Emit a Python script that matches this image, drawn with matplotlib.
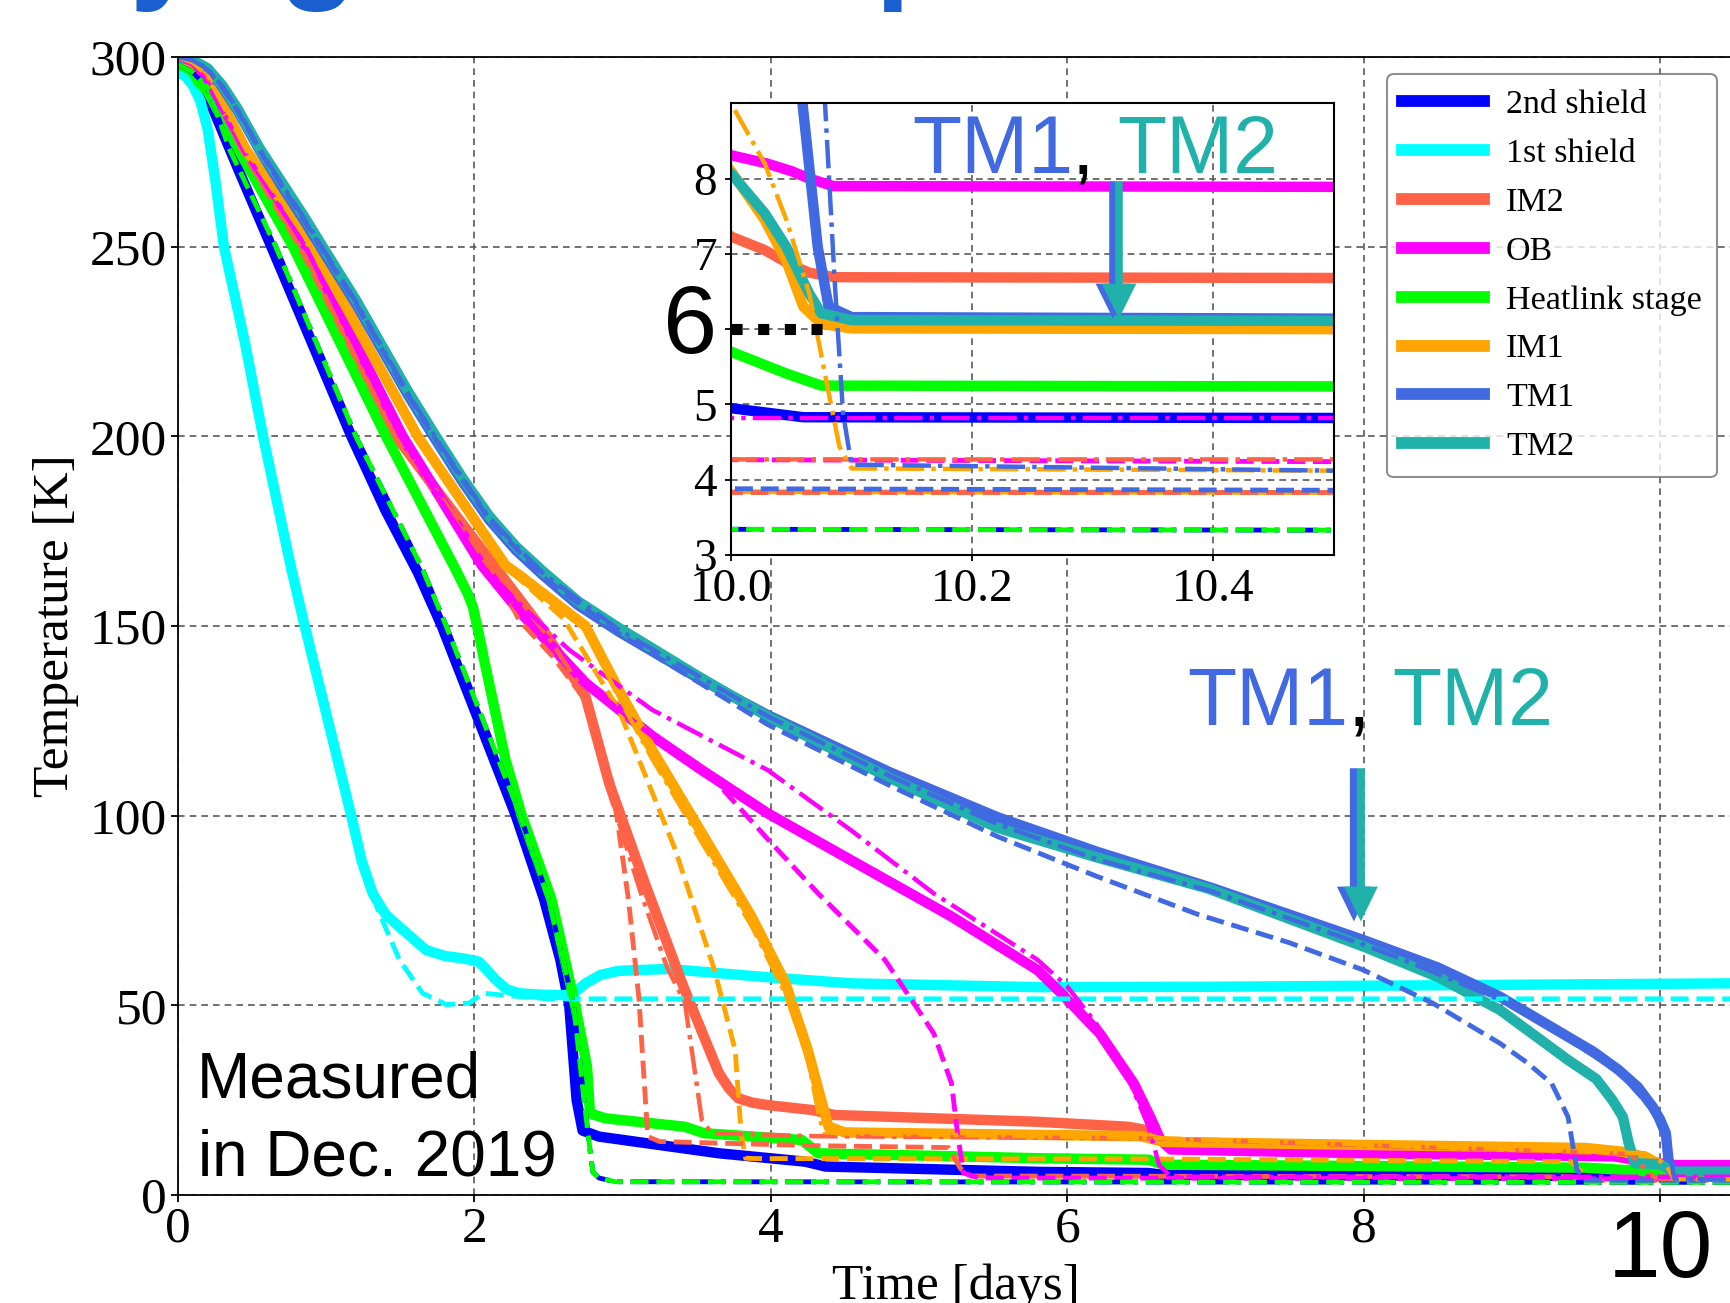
import matplotlib
matplotlib.use("Agg")
import matplotlib.pyplot as plt
from matplotlib.patches import FancyArrow

W_PX, H_PX, DPI = 1730, 1303, 100
SERIF = "Liberation Serif"
SANS = "Liberation Sans"

# ---- component colours (legend order) ----
names = ["2nd shield", "1st shield", "IM2", "OB", "Heatlink stage", "IM1", "TM1", "TM2"]
colors = ["#0000ff", "#00ffff", "#ff6347", "#ff00ff", "#00ff00", "#ffa500", "#4169e1", "#20b2aa"]

# ---- measured (solid) curves, time [days] / temperature [K] ----
t_2nd = [0, 0.05, 0.1, 0.17, 0.4, 0.63, 0.9, 1.17, 1.4, 1.62, 1.78, 2.0, 2.28, 2.47, 2.58, 2.64,
         2.69, 2.73, 2.84, 3.65, 4.23, 4.37, 5.8, 6.55, 6.65, 9.9, 10.0, 10.06, 10.5]
T_2nd = [300, 298.5, 296, 292.5, 271, 250, 225, 200, 180.5, 164, 150, 128, 100, 78, 62, 50,
         25, 17, 15.4, 11.0, 8.8, 7.5, 6.1, 5.8, 5.3, 5.0, 4.95, 4.83, 4.82]

t_1st = [0, 0.05, 0.1, 0.15, 0.2, 0.25, 0.31, 0.45, 0.574, 0.765, 0.855, 1.0, 1.169, 1.24, 1.314,
         1.40, 1.494, 1.673, 1.8, 1.92, 2.03, 2.08, 2.145, 2.22, 2.30, 2.45, 2.616, 2.68, 2.75,
         2.85, 2.974, 3.31, 3.98, 4.54, 5.8, 7.0, 10.5]
T_1st = [296, 295, 292.5, 288.5, 281, 268, 250, 225, 200, 165, 150, 127, 100, 88, 79.5,
         74, 70.7, 64.6, 63, 62.4, 61.5, 59.5, 56.7, 54.2, 53.2, 52.8, 52.7, 53.5, 55.8,
         58, 59.1, 59.6, 57.4, 55.8, 54.8, 54.9, 55.8]

t_im2 = [0, 0.1, 0.2, 0.43, 0.83, 1.47, 2.155, 2.5, 2.75, 2.91, 3.15, 3.41, 3.65, 3.72, 3.78,
         3.88, 3.98, 4.28, 4.43, 5.8, 6.41, 6.55, 6.63, 6.75, 8.0, 9.6, 9.9, 10.0, 10.028,
         10.05, 10.065, 10.086, 10.5]
T_im2 = [300, 298, 294, 275.5, 250, 200, 164.8, 147, 131.4, 108.5, 82.2, 55, 32.1, 28, 25.5,
         24.3, 23.7, 22.4, 21.1, 19.3, 18.0, 17.0, 14.5, 12.5, 12.0, 11.0, 8.5, 7.23, 7.05,
         6.85, 6.75, 6.69, 6.68]

t_ob = [0, 0.1, 0.19, 0.44, 0.866, 1.516, 2.05, 2.30, 2.75, 3.2, 3.535, 3.98, 4.54, 5.22, 5.8,
        5.96, 6.22, 6.45, 6.56, 6.63, 6.7, 8.0, 9.7, 9.95, 10.0, 10.03, 10.05, 10.065, 10.085, 10.5]
T_ob = [300, 298, 293, 275.5, 250, 200, 166, 154, 135, 121, 112, 100.6, 88.3, 73.4, 59.3,
        53.2, 42.6, 29.4, 20.6, 14.5, 12.0, 11.0, 10.2, 8.8, 8.31, 8.2, 8.1, 8.0, 7.9, 7.89]

t_heat = [0, 0.1, 0.2, 0.41, 0.776, 1.404, 1.875, 1.954, 1.99, 2.03, 2.066, 2.21, 2.32, 2.52,
          2.68, 2.73, 2.76, 2.78, 2.885, 3.42, 3.55, 4.21, 4.32, 5.8, 6.55, 6.65, 9.5, 9.8,
          10.0, 10.046, 10.075, 10.5]
T_heat = [297, 295, 291, 275.5, 250, 200, 164.8, 158.6, 155, 148, 141, 114.7, 100, 78,
          50, 40, 33.8, 21.5, 20.2, 18.0, 16.3, 14.5, 11.0, 9.7, 9.3, 8.0, 7.2, 6.5,
          5.7, 5.41, 5.25, 5.24]

t_im1 = [0, 0.1, 0.2, 0.46, 0.91, 1.617, 2.21, 2.30, 2.75, 2.975, 3.2, 3.535, 3.87, 4.10, 4.25,
         4.365, 4.39, 4.5, 6.5, 6.65, 8.0, 9.5, 9.75, 9.9, 10.0, 10.028, 10.046, 10.06, 10.075,
         10.1, 10.5]
T_im1 = [300, 298.5, 295, 275.5, 250, 200, 166, 163.5, 150, 133.1, 117.3, 95.4, 73.4, 55.8, 38.2,
         21.5, 18, 16.5, 15.5, 14.0, 13.2, 12.4, 11.4, 10.0, 8.1, 7.45, 6.9, 6.3, 6.07,
         6.01, 6.0]

t_tm1 = [0, 0.1, 0.2, 0.3, 0.4, 0.55, 0.7, 0.85, 1.0, 1.2, 1.36, 1.55, 1.74, 1.92, 2.10, 2.28,
         2.46, 2.7, 2.975, 3.5, 3.98, 4.8, 5.53, 6.2, 6.98, 8.0, 8.5, 8.92, 9.38, 9.55, 9.72,
         9.85, 9.95, 10.0, 10.04, 10.058, 10.072, 10.081, 10.1, 10.5]
T_tm1 = [300, 299, 296.5, 292, 286, 275.5, 266, 257, 247.5, 235, 224, 211, 199, 188, 178, 170,
         163.5, 155.5, 148.5, 136.5, 126.5, 111.5, 99.6, 90.5, 80.9, 67.2, 60, 52.3, 41.7, 37.8, 33,
         28.5, 23.3, 20, 16.3, 9.2, 7.09, 6.3, 6.16, 6.14]

t_tm2 = [0, 0.1, 0.2, 0.3, 0.4, 0.55, 0.7, 0.85, 1.0, 1.2, 1.36, 1.55, 1.74, 1.92, 2.10, 2.28,
         2.46, 2.7, 2.975, 3.5, 3.98, 4.8, 5.53, 6.2, 6.95, 8.0, 8.5, 8.92, 9.38, 9.57, 9.68,
         9.75, 9.79, 9.83, 9.95, 10.0, 10.028, 10.046, 10.065, 10.075, 10.1, 10.5]
T_tm2 = [300, 299.2, 297, 292.5, 286.5, 276, 267, 258, 248.5, 236, 225, 212, 200, 189, 179, 171,
         164.5, 156.5, 149.5, 137, 126.1, 110, 96.8, 89, 80.8, 65.5, 57.5, 48.8, 35.6, 30.6, 25.0,
         20.6, 13.6, 8.4, 8.2, 8.07, 7.54, 7.09, 6.47, 6.21, 6.12, 6.11]

# ---- simulation A (dashed) ----
t_1st_a = [0, 0.05, 0.1, 0.15, 0.2, 0.25, 0.31, 0.45, 0.574, 0.855, 1.169, 1.236, 1.35, 1.494,
           1.65, 1.81, 1.965, 2.06, 2.19, 2.5, 10.5]
T_1st_a = [296, 295, 292.5, 288.5, 281, 268, 250, 225, 200, 150, 100, 88.3, 75.1, 62,
           53.2, 50.2, 50.6, 53.2, 52.7, 51.7, 51.7]

t_im1_a = [0, 0.1, 0.2, 0.46, 0.9, 1.6, 2.2, 2.6, 2.975, 3.356, 3.62, 3.76, 3.80, 3.83, 3.9, 6.5,
           9.4, 9.5, 9.55, 10.5]
T_im1_a = [300, 298.5, 295, 275.5, 250, 200, 166, 152, 127.9, 91, 59.3, 38.2, 16.3, 9.7, 9.6, 9.5,
           8.8, 5, 3.85, 3.83]

t_im2_a = [0, 0.1, 0.2, 0.43, 0.82, 1.46, 1.9, 2.17, 2.30, 2.53, 2.73, 2.93, 3.04, 3.11, 3.17,
           3.25, 4.3, 5.2, 5.28, 5.35, 9.4, 9.45, 9.5, 10.5]
T_im2_a = [300, 298, 294, 275.5, 250, 200, 176, 162, 151.6, 141.9, 131.4, 108.6, 77.8, 52, 15.4,
           14.1, 13.0, 12.5, 7.0, 5.0, 4.8, 4.2, 3.83, 3.83]

t_ob_a = [0, 0.1, 0.2, 0.44, 0.86, 1.5, 2.05, 2.3, 2.75, 3.2, 3.56, 3.98, 4.32, 4.77, 5.1, 5.22,
          5.26, 5.30, 5.4, 10.5]
T_ob_a = [300, 298, 293, 275.5, 250, 200, 166, 154, 135, 121, 112, 93.8, 79.5, 62, 42.6, 29.4,
          16.3, 5.8, 4.5, 4.24]

t_heat_a = [0, 0.1, 0.2, 0.35, 0.66, 1.2, 1.65, 1.81, 2.31, 2.5, 2.67, 2.74, 2.78, 2.80, 2.84,
            2.95, 10.5]
T_heat_a = [298, 296, 292, 275.5, 250, 200, 165, 150, 100, 78, 50, 25, 12, 6, 4.5,
            3.5, 3.33]

t_tm1_a = [0, 0.1, 0.2, 0.3, 0.4, 0.55, 0.7, 0.85, 1.0, 1.2, 1.36, 1.55, 1.74, 2.10, 2.46, 2.975,
           3.98, 4.8, 5.53, 6.2, 6.88, 7.5, 8.0, 8.47, 8.92, 9.1, 9.27, 9.38, 9.41, 9.44, 9.5, 10.5]
T_tm1_a = [300, 299, 296.5, 292, 286, 275.5, 266, 257, 247.5, 235, 224, 211, 199, 178, 163, 148,
           124, 108, 94.5, 84, 74, 66.5, 59.3, 50.5, 40, 35, 29.4, 20.6, 13.6, 6.6, 3.9, 3.86]

# ---- simulation B (dash-dot) ----
t_im2_b = [0, 0.1, 0.2, 0.43, 0.83, 1.47, 2.1, 2.5, 2.75, 2.88, 3.12, 3.30, 3.42, 3.535, 3.6,
           4.3, 6.6, 9.8, 9.95, 10.0, 10.5]
T_im2_b = [300, 298, 294, 275.5, 250, 200, 167, 147, 132, 110, 80, 60, 50.8, 19.8, 16.3,
           15.5, 14.9, 10.8, 5.0, 4.27, 4.27]

t_ob_b = [0, 0.1, 0.2, 0.44, 0.86, 1.5, 2.05, 2.3, 2.64, 3.2, 3.98, 4.54, 5.1, 5.8, 6.0, 6.2,
          6.4, 6.55, 6.62, 6.7, 10.5]
T_ob_b = [300, 298, 293, 275.5, 250, 200, 166, 156, 143.7, 127.9, 112, 96.2, 79.5, 62, 55, 45,
          32, 18, 8, 4.82, 4.82]

t_im1_b = [0, 0.1, 0.2, 0.46, 0.9, 1.6, 2.2, 2.75, 2.975, 3.2, 3.535, 3.87, 4.10, 4.25, 4.33,
           4.36, 4.45, 6.6, 9.9, 10.0, 10.028, 10.046, 10.065, 10.079, 10.09, 10.1, 10.5]
T_im1_b = [300, 298.5, 295, 275.5, 250, 200, 166, 149, 131, 115, 93, 71, 53, 36, 20,
           16.6, 16.3, 15.0, 11.0, 9.0, 8.2, 7.45, 6.47, 5.32, 4.44, 4.15, 4.12]

t_tm1_b = [0, 0.1, 0.2, 0.3, 0.4, 0.55, 0.7, 0.85, 1.0, 1.2, 1.36, 1.55, 1.74, 2.10, 2.46, 2.975,
           3.98, 4.8, 5.53, 6.2, 6.98, 8.0, 8.24, 8.92, 9.38, 9.72, 9.95, 10.04, 10.07, 10.078,
           10.086, 10.093, 10.1, 10.5]
T_tm1_b = [300, 299.1, 296.8, 292.3, 286.3, 275.8, 266.5, 257.5, 248, 235.5, 224.5, 211.5, 199.5,
           178.5, 164, 149, 126.2, 110.5, 97.8, 88.5, 80, 66, 62.5, 51.5, 41, 32.5, 22.5, 14, 10.5,
           9.0, 6.65, 4.88, 4.2, 4.12]

# 2nd shield sim B runs underneath the heat-link sim A curve
t_2nd_b = t_heat_a
T_2nd_b = T_heat_a

solid = [(t_2nd, T_2nd), (t_1st, T_1st), (t_im2, T_im2), (t_ob, T_ob),
         (t_heat, T_heat), (t_im1, T_im1), (t_tm1, T_tm1), (t_tm2, T_tm2)]
dashed = [(t_1st_a, T_1st_a, colors[1], "--"), (t_im1_a, T_im1_a, colors[5], "--"),
          (t_im2_a, T_im2_a, colors[2], "--"), (t_ob_a, T_ob_a, colors[3], "--"),
          (t_2nd_b, T_2nd_b, colors[0], "-."), (t_heat_a, T_heat_a, colors[4], "--"),
          (t_tm1_a, T_tm1_a, colors[6], "--")]
dashdot = [(t_im2_b, T_im2_b, colors[2]), (t_ob_b, T_ob_b, colors[3]),
           (t_im1_b, T_im1_b, colors[5]), (t_tm1_b, T_tm1_b, colors[6])]


def fxy(x_px, y_px):
    return x_px / W_PX, 1 - y_px / H_PX


def draw_curves(a):
    handles = []
    for (t, T), c, name in zip(solid, colors, names):
        h, = a.plot(t, T, color=c, lw=7.5, label=name)
        handles.append(h)
    for t, T, c, ls in dashed:
        a.plot(t, T, color=c, lw=3.5, linestyle=ls)
    for t, T, c in dashdot:
        a.plot(t, T, color=c, lw=3.2, linestyle="-.")
    return handles


def split_arrow(a, x_blue, x_teal, y_top, y_tip, shaft, head_w, head_len):
    for x, c in ((x_blue, colors[6]), (x_teal, colors[7])):
        a.add_patch(FancyArrow(x, y_top, 0, y_tip - y_top, width=shaft, head_width=head_w,
                               head_length=head_len, length_includes_head=True,
                               color=c, lw=0, zorder=6))


plt.rcParams["font.family"] = SERIF
fig = plt.figure(figsize=(W_PX / DPI, H_PX / DPI), dpi=DPI)

# main axes (right edge runs past the cropped figure)
ax = fig.add_axes([178 / W_PX, 108 / H_PX, 1556 / W_PX, 1138 / H_PX])
handles = draw_curves(ax)
ax.set_xlim(0, 10.5)
ax.set_ylim(0, 300)
ax.set_xticks([0, 2, 4, 6, 8, 10])
ax.set_xticklabels(["0", "2", "4", "6", "8", ""])
ax.set_yticks([0, 50, 100, 150, 200, 250, 300])
ax.tick_params(labelsize=37, length=5, width=1.3, pad=3)
ax.set_xlabel("Time [days]", fontsize=37, labelpad=8)
ax.set_ylabel("Temperature [K]", fontsize=37, labelpad=8)
ax.grid(True, color="0.35", linestyle=(0, (4, 3)), linewidth=1.2)
ax.set_axisbelow(True)
for s in ax.spines.values():
    s.set_linewidth(1.3)

leg = ax.legend(handles=handles, loc="upper right", fontsize=24.5, labelspacing=0.53,
                handlelength=2.4, handletextpad=0.65, borderpad=0.45, framealpha=0.8,
                edgecolor="0.45")
leg.get_frame().set_linewidth(1.5)
for h in leg.get_lines():
    h.set_linewidth(8.5)

split_arrow(ax, 7.935, 7.982, 112.5, 72.1, 0.054, 0.229, 9.2)

# inset: zoom on the end of cooling
ins = fig.add_axes([731 / W_PX, 748 / H_PX, 602.5 / W_PX, 451.7 / H_PX])
draw_curves(ins)
ins.set_xlim(10.0, 10.5)
ins.set_ylim(3, 9)
ins.set_xticks([10.0, 10.2, 10.4])
ins.set_xticklabels(["10.0", "10.2", "10.4"])
ins.set_yticks([3, 4, 5, 6, 7, 8])
ins.set_yticklabels(["3", "4", "5", "", "7", "8"])
ins.tick_params(labelsize=34, length=4, width=1.3, pad=6)
ins.grid(True, color="0.35", linestyle=(0, (4, 3)), linewidth=1.2)
ins.set_axisbelow(True)
for s in ins.spines.values():
    s.set_linewidth(1.5)
ins.plot([10.0, 10.077], [6, 6], color="black", lw=8, linestyle=(0, (1, 1.4)),
         dash_capstyle="butt", zorder=7)
split_arrow(ins, 10.317, 10.322, 7.96, 6.14, 0.00625, 0.0288, 0.465)

# annotations
fig.text(-12 / W_PX, 1 + 15 / H_PX, "Cryogenic temperature", fontsize=92, weight="bold",
         color="#1a5fd0", family=SANS, va="baseline")
fig.text(*fxy(197, 1098), "Measured", fontsize=46, family=SANS, va="baseline")
fig.text(*fxy(198, 1175), "in Dec. 2019", fontsize=46, family=SANS, va="baseline")
fig.text(*fxy(663, 353), "6", fontsize=70, family=SANS, va="baseline")
fig.text(*fxy(1608, 1277), "10", fontsize=68, family=SANS, va="baseline")
for x_tm1, x_comma, x_tm2, y in ((1187, 1348, 1392, 725), (912, 1072, 1117, 173)):
    fig.text(*fxy(x_tm1, y), "TM1", fontsize=58, family=SANS, color=colors[6], va="baseline")
    fig.text(*fxy(x_comma, y), ",", fontsize=58, family=SANS, color="black", va="baseline")
    fig.text(*fxy(x_tm2, y), "TM2", fontsize=58, family=SANS, color=colors[7], va="baseline")

fig.savefig("out.png", dpi=DPI)
